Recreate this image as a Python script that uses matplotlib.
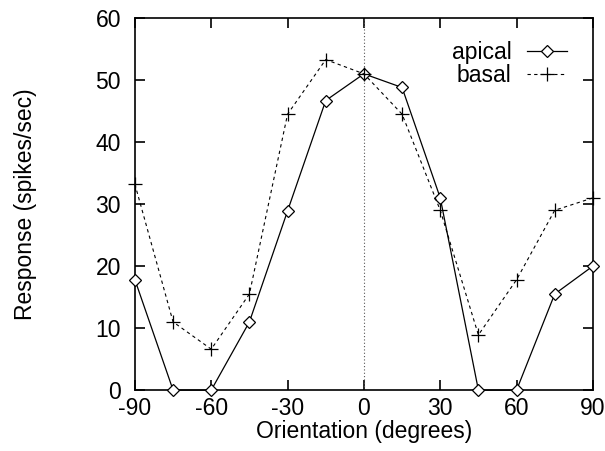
import matplotlib
matplotlib.use("Agg")
import matplotlib.pyplot as plt

orientation = [-90, -75, -60, -45, -30, -15, 0, 15, 30, 45, 60, 75, 90]
apical = [17.8, 0, 0, 11.0, 28.9, 46.7, 51.0, 48.8, 31.0, 0, 0, 15.5, 20.0]
basal = [33.2, 11.0, 6.6, 15.5, 44.5, 53.3, 51.0, 44.5, 29.0, 8.9, 17.8, 29.0, 31.0]
xticks = [-90, -60, -30, 0, 30, 60, 90]
yticks = [0, 10, 20, 30, 40, 50, 60]

plt.rcParams['font.family'] = ['Liberation Sans', 'DejaVu Sans']
plt.rcParams['axes.unicode_minus'] = False
fig = plt.figure(figsize=(6.05, 4.51), dpi=100)
ax = fig.add_axes([0.223, 0.135, 0.757, 0.825])

ax.axvline(0, color='#555555', linestyle=(0, (1, 2)), linewidth=0.8)
ax.plot(orientation, apical, color='black', linestyle='-', linewidth=0.9,
        marker='D', markersize=6.5, markerfacecolor='white', markeredgecolor='black',
        markeredgewidth=0.9, label='apical', clip_on=False, zorder=3)
ax.plot(orientation, basal, color='black', linestyle=(0, (3, 3)), linewidth=0.8,
        marker='+', markersize=10, markeredgewidth=0.9, label='basal',
        clip_on=False, zorder=3)

ax.set_xlim(-90, 90)
ax.set_ylim(0, 60)
ax.set_xticks(xticks)
ax.set_yticks(yticks)
ax.tick_params(direction='in', top=True, right=True, length=7.5, width=1.2,
               labelsize=16.5)
ax.tick_params(axis='y', pad=10)
ax.tick_params(axis='x', pad=5)
for s in ax.spines.values():
    s.set_linewidth(1.2)
ax.set_xlabel('Orientation (degrees)', fontsize=16.5, labelpad=0)
ax.set_ylabel('Response (spikes/sec)', fontsize=16.5, labelpad=42)

leg = ax.legend(loc='upper right', bbox_to_anchor=(0.943, 0.937), frameon=False,
                markerfirst=False, fontsize=16.5, handlelength=1.75,
                handletextpad=0.65, labelspacing=0.0, borderaxespad=0.0,
                borderpad=0.0)

fig.savefig('out.png', dpi=100)
